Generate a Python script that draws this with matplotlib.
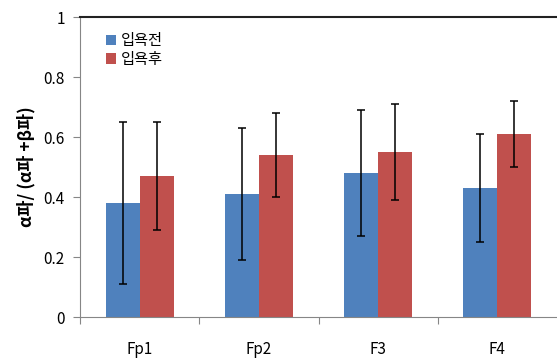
import numpy as np
import matplotlib
matplotlib.use("Agg")
import matplotlib.pyplot as plt

plt.rcParams['font.family'] = ['Noto Sans CJK KR', 'DejaVu Sans']

channels = ['Fp1', 'Fp2', 'F3', 'F4']
series = ['입욕전', '입욕후']
before = [0.38, 0.41, 0.48, 0.43]
after = [0.47, 0.54, 0.55, 0.61]
# error bar ends
before_hi = [0.65, 0.63, 0.69, 0.61]
before_lo = [0.11, 0.19, 0.27, 0.25]
after_hi = [0.65, 0.68, 0.71, 0.72]
after_lo = [0.29, 0.40, 0.39, 0.50]
colors = ['#4F81BD', '#C0504D']

fig = plt.figure(figsize=(5.57, 3.61), dpi=100)
ax = fig.add_axes([80 / 557, 44 / 361, 477 / 557, 300 / 361])

x = np.arange(len(channels))
w = 0.285
vals = [before, after]
his = [before_hi, after_hi]
los = [before_lo, after_lo]
for i, (v, hi, lo) in enumerate(zip(vals, his, los)):
    v = np.array(v)
    err = [v - np.array(lo), np.array(hi) - v]
    pos = x + (i - 0.5) * w
    ax.bar(pos, v, w, color=colors[i], label=series[i], zorder=2)
    ax.errorbar(pos, v, yerr=err, fmt='none', ecolor='black',
                elinewidth=1.1, capsize=3, capthick=1.1, zorder=3)

ax.set_xlim(-0.5, 3.5)
ax.set_ylim(0, 1)
ax.set_yticks([0, 0.2, 0.4, 0.6, 0.8, 1])
ax.set_yticklabels(['0', '0.2', '0.4', '0.6', '0.8', '1'])
ax.tick_params(axis='y', length=5, width=0.8, color='#868686', pad=6,
               labelsize=11)

ax.set_xticks(x)
ax.set_xticklabels(channels)
ax.tick_params(axis='x', which='major', length=0, pad=17, labelsize=11)
ax.set_xticks([-0.5, 0.5, 1.5, 2.5], minor=True)
ax.tick_params(axis='x', which='minor', length=5, width=0.8, color='#868686')

for s in ['left', 'bottom']:
    ax.spines[s].set_color('#868686')
    ax.spines[s].set_linewidth(0.8)
ax.spines['right'].set_visible(False)
ax.spines['top'].set_color('#222222')
ax.spines['top'].set_linewidth(1.5)

ax.set_ylabel('α파/ (α파 +β파)', fontsize=12.5, fontweight='bold', labelpad=6)

ax.legend(loc='upper left', bbox_to_anchor=(0.025, 0.995), frameon=False,
          handlelength=0.7, handleheight=0.7, handletextpad=0.3,
          labelspacing=0.1, fontsize=11)

fig.savefig('out.png', dpi=100)
